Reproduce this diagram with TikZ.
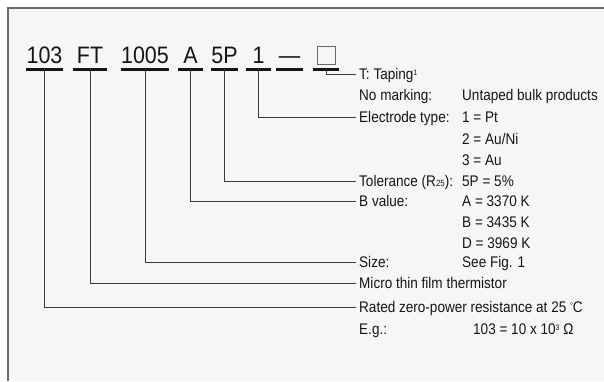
\documentclass[tikz,border=0pt]{standalone}
\usepackage{fontspec}
\setmainfont{Liberation Sans}[FakeStretch=0.88]
\newfontfamily\codefont{Liberation Sans}[FakeStretch=0.9]
\definecolor{bgc}{HTML}{F5F7F7}
\definecolor{linec}{HTML}{3A3A3A}
\definecolor{framec}{HTML}{6A6A6A}
\definecolor{txtc}{HTML}{151515}
\newcommand{\tinysup}[1]{\raisebox{4.5pt}{\fontsize{8}{8}\selectfont #1}}
\newcommand{\tinysub}[1]{\raisebox{0pt}{\fontsize{9}{9}\selectfont #1}}
\begin{document}
\begin{tikzpicture}[x=1pt,y=-1pt,
  codebox/.style={anchor=base, inner sep=0pt, text height=17pt, text depth=6pt,
     font=\codefont\fontsize{23.8}{26}\selectfont, text=txtc},
  uline/.style={line width=2.6pt, draw=txtc},
  conn/.style={line width=0.9pt, draw=linec},
  lab/.style={anchor=west, inner sep=0pt, text height=11pt, text depth=0pt,
     font=\fontsize{15.4}{18}\selectfont, text=txtc},
  ]
\useasboundingbox (0,0) rectangle (604,381);
\fill[white] (0,0) rectangle (604,381);
\fill[bgc] (8,8) rectangle (604,381);
\draw[framec, line width=1.3pt] (8,381) -- (8,8) -- (604,8);

% code parts
\node[codebox, minimum width=37pt] (c103) at (44.5,63) {103};
\node[codebox, minimum width=34pt] (cFT) at (90,63) {FT};
\node[codebox, minimum width=48pt] (c1005) at (145,63) {1005};
\node[codebox, minimum width=25pt] (cA) at (190.5,63) {A};
\node[codebox, minimum width=27pt] (c5P) at (224.5,63) {5P};
\node[codebox, minimum width=25pt] (c1) at (258.5,63) {1};
\node[codebox, minimum width=27pt] (cdash) at (289.5,63) {—};
\node[codebox, minimum width=26pt] (cbox) at (326,63) {};
\node[draw=framec, line width=0.9pt, minimum size=18pt, inner sep=0pt] (sq) at (326,55) {};
\foreach \n in {c103,cFT,c1005,cA,c5P,c1,cdash,cbox}
  \draw[uline] (\n.south west) -- (\n.south east);

% labels
\node[lab] (lTap) at (359,74) {T: Taping\tinysup{1}};
\node[lab] (lNo) at (359,95) {No marking:};
\node[lab] (vNo) at (462,95) {Untaped bulk products};
\node[lab] (lEl) at (359,117) {Electrode type:};
\node[lab] (vEl1) at (462,117) {1 = Pt};
\node[lab] (vEl2) at (462,139) {2 = Au/Ni};
\node[lab] (vEl3) at (462,160) {3 = Au};
\node[lab] (lTol) at (359,181) {Tolerance (R\tinysub{25}):};
\node[lab] (vTol) at (462,181) {5P = 5\%};
\node[lab] (lB) at (359,201) {B value:};
\node[lab] (vB1) at (462,201) {A = 3370 K};
\node[lab] (vB2) at (462,222) {B = 3435 K};
\node[lab] (vB3) at (462,243) {D = 3969 K};
\node[lab] (lSize) at (359,262) {Size:};
\node[lab] (vSize) at (462,262) {See Fig. 1};
\node[lab] (lMicro) at (359,283) {Micro thin film thermistor};
\node[lab] (lRated) at (359,307) {Rated zero-power resistance at 25 \tinysup{°}C};
\node[lab] (lEg) at (359,329) {E.g.:};
\node[lab] (vEg) at (473,329) {103 = 10 x 10\tinysup{3} Ω};

% connectors
\draw[conn] (cbox.south) |- ([xshift=-3pt]lTap.west);
\draw[conn] (c1.south) |- ([xshift=-3pt]lEl.west);
\draw[conn] (c5P.south) |- ([xshift=-3pt]lTol.west);
\draw[conn] (cA.south) |- ([xshift=-3pt]lB.west);
\draw[conn] (c1005.south) |- ([xshift=-3pt]lSize.west);
\draw[conn] (cFT.south) |- ([xshift=-3pt]lMicro.west);
\draw[conn] (c103.south) |- ([xshift=-3pt]lRated.west);
\end{tikzpicture}
\end{document}
